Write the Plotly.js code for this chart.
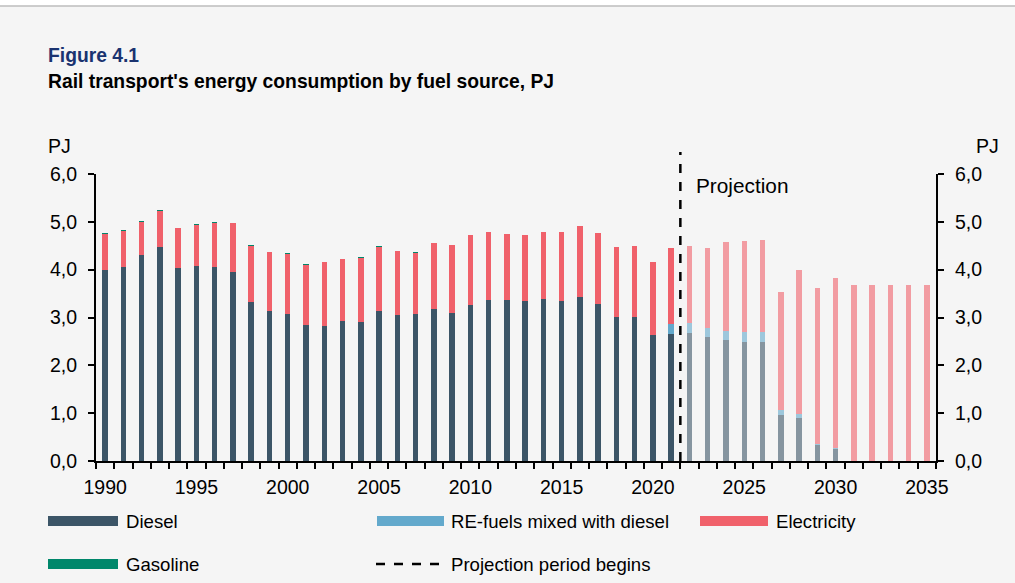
<!DOCTYPE html>
<html>
<head>
<meta charset="utf-8">
<script src="https://cdn.plot.ly/plotly-3.0.1.min.js"></script>
<style>html,body{margin:0;padding:0;background:#fff;}#chart{width:1015px;height:583px;}</style>
</head>
<body>
<div id="chart"></div>
<script>
// ---- data ----
const years = [1990,1991,1992,1993,1994,1995,1996,1997,1998,1999,2000,2001,2002,2003,2004,2005,2006,2007,2008,2009,2010,2011,2012,2013,2014,2015,2016,2017,2018,2019,2020,2021,2022,2023,2024,2025,2026,2027,2028,2029,2030,2031,2032,2033,2034,2035];
const diesel = [4.00,4.06,4.30,4.47,4.04,4.08,4.05,3.96,3.33,3.13,3.07,2.84,2.83,2.93,2.91,3.13,3.05,3.07,3.18,3.09,3.26,3.36,3.36,3.34,3.39,3.35,3.42,3.28,3.02,3.01,2.64,2.66,2.68,2.60,2.52,2.48,2.48,0.97,0.89,0.33,0.25,0,0,0,0,0];
const reFuels = [0,0,0,0,0,0,0,0,0,0,0,0,0,0,0,0,0,0,0,0,0,0,0,0,0,0,0,0,0,0,0,0.20,0.20,0.19,0.19,0.22,0.22,0.10,0.09,0.03,0.03,0,0,0,0,0];
const electricity = [0.75,0.74,0.70,0.76,0.83,0.85,0.93,1.01,1.17,1.23,1.25,1.26,1.32,1.29,1.34,1.35,1.35,1.28,1.37,1.43,1.47,1.43,1.39,1.39,1.40,1.43,1.50,1.48,1.45,1.48,1.53,1.60,1.62,1.67,1.86,1.89,1.92,2.46,3.01,3.26,3.55,3.69,3.69,3.69,3.69,3.69];
const gasoline = [0.02,0.02,0.02,0.01,0.01,0.02,0.02,0.01,0.01,0.01,0.02,0.02,0.02,0.01,0.01,0.01,0,0.02,0.01,0,0,0,0,0,0,0,0,0,0,0,0,0,0,0,0,0,0,0,0,0,0,0,0,0,0,0];
const projectionStart = 2022;
const xTickYears = [1990,1995,2000,2005,2010,2015,2020,2025,2030,2035];
const seriesNames = ["Diesel","RE-fuels mixed with diesel","Electricity","Gasoline"];
const titleText = "Figure 4.1";
const subtitleText = "Rail transport's energy consumption by fuel source, PJ";

// ---- styling ----
const colors = {diesel:"#3c5567", re:"#63a9cc", elec:"#f0616b", gas:"#00876b"};
const FONT = "Liberation Sans, Arial, sans-serif";
const L = 96, R = 936, T = 174, B = 461, WIDTH = 1015, HEIGHT = 583;
const px = x => (x - L) / (R - L);
const py = y => (B - y) / (B - T);
const op = years.map(y => y >= projectionStart ? 0.6 : 1);

function barTrace(name, vals, color){
  return {type:"bar", x:years, y:vals, name:name, width:0.3,
    marker:{color:color, opacity:op, line:{width:0}}, showlegend:false, hoverinfo:"x+y+name"};
}
const traces = [
  barTrace(seriesNames[0], diesel, colors.diesel),
  barTrace(seriesNames[1], reFuels, colors.re),
  barTrace(seriesNames[2], electricity, colors.elec),
  barTrace(seriesNames[3], gasoline, colors.gas),
  {type:"scatter", mode:"lines", x:[years[0]], y:[null], yaxis:"y2", showlegend:false, hoverinfo:"skip"}
];

const boundaries = years.map(y => y - 0.5).concat([years[years.length-1] + 0.5]);

const yAxisCommon = {range:[0,6], dtick:1, tick0:0, tickformat:".1f", showgrid:false, zeroline:false,
  showline:true, linecolor:"#000", linewidth:2, ticks:"outside", ticklen:6, tickwidth:2, tickcolor:"#000",
  tickfont:{family:FONT, size:19.5, color:"#000"}, ticklabelstandoff:7, fixedrange:true};

const shapes = [
  {type:"rect", xref:"paper", yref:"paper", x0:px(0), x1:px(WIDTH), y0:py(6), y1:py(-2), fillcolor:"#ffffff", line:{width:0}, layer:"below"},
  {type:"line", xref:"paper", yref:"paper", x0:px(0), x1:px(WIDTH), y0:py(6), y1:py(6), line:{color:"#bdbdbd", width:1.5}},
  {type:"line", xref:"x", yref:"paper", x0:projectionStart-0.5, x1:projectionStart-0.5, y0:0, y1:py(152), line:{color:"#000", width:2.5, dash:"dash"}},
  // legend swatches
  {type:"rect", xref:"paper", yref:"paper", x0:px(48), x1:px(118), y0:py(516), y1:py(526), fillcolor:colors.diesel, line:{width:0}},
  {type:"rect", xref:"paper", yref:"paper", x0:px(377), x1:px(444), y0:py(516), y1:py(526), fillcolor:colors.re, line:{width:0}},
  {type:"rect", xref:"paper", yref:"paper", x0:px(700), x1:px(768), y0:py(516), y1:py(526), fillcolor:colors.elec, line:{width:0}},
  {type:"rect", xref:"paper", yref:"paper", x0:px(48), x1:px(118), y0:py(559), y1:py(569), fillcolor:colors.gas, line:{width:0}},
  {type:"line", xref:"paper", yref:"paper", x0:px(376), x1:px(442), y0:py(564), y1:py(564), line:{color:"#000", width:2.5, dash:"dash"}}
];

function ann(text, x, y, size, color){
  return {text:text, xref:"paper", yref:"paper", x:px(x), y:py(y), xanchor:"left", yanchor:"middle",
    showarrow:false, font:{family:FONT, size:size, color:color||"#000"}};
}
const annotations = [
  ann("<b>"+titleText+"</b>", 46, 55, 19.3, "#1a3370"),
  ann("<b>"+subtitleText+"</b>", 46, 81, 19.3),
  ann("PJ", 46, 146, 19.5),
  ann("PJ", 974, 146, 19.5),
  ann("Projection", 694, 185, 20.8),
  ann(seriesNames[0], 124, 521, 18.6),
  ann(seriesNames[1], 449, 521, 18.6),
  ann(seriesNames[2], 774, 521, 18.6),
  ann(seriesNames[3], 124, 564, 18.6),
  ann("Projection period begins", 449, 564, 18.6)
];

const layout = {
  width:WIDTH, height:HEIGHT,
  margin:{l:L, r:WIDTH-R, t:T, b:HEIGHT-B, pad:0},
  paper_bgcolor:"#f5f5f5", plot_bgcolor:"rgba(0,0,0,0)",
  separators:",.",
  barmode:"stack", bargap:0,
  showlegend:false,
  font:{family:FONT, size:18, color:"#000"},
  xaxis:{type:"linear", range:[years[0]-0.5, years[years.length-1]+0.5], tickmode:"array", tickvals:xTickYears,
    ticks:"", showgrid:false, zeroline:false, showline:true, linecolor:"#000", linewidth:2,
    tickfont:{family:FONT, size:19.5, color:"#000"}, ticklabelstandoff:8,
    minor:{tickmode:"array", tickvals:boundaries, ticks:"outside", ticklen:6, tickwidth:2, tickcolor:"#000", showgrid:false},
    fixedrange:true},
  yaxis:Object.assign({}, yAxisCommon, {side:"left"}),
  yaxis2:Object.assign({}, yAxisCommon, {side:"right", overlaying:"y", anchor:"x"}),
  shapes:shapes, annotations:annotations
};
Plotly.newPlot("chart", traces, layout, {displayModeBar:false, staticPlot:true});
</script>
</body>
</html>
